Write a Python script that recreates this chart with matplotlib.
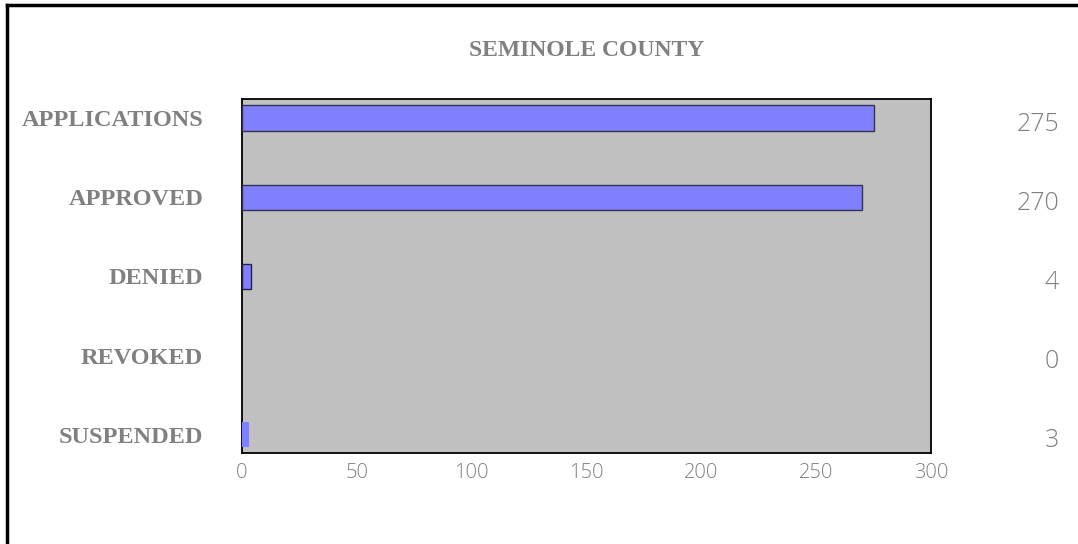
import matplotlib
matplotlib.use("Agg")
import matplotlib.pyplot as plt
from matplotlib.lines import Line2D

title = "SEMINOLE COUNTY"
categories = ["APPLICATIONS", "APPROVED", "DENIED", "REVOKED", "SUSPENDED"]
values = [275, 270, 4, 0, 3]
xticks = [0, 50, 100, 150, 200, 250, 300]

fig = plt.figure(figsize=(10.78, 5.44), dpi=100)
fig.patch.set_facecolor("white")
ax = fig.add_axes([242/1078, 1-453/544, (931-242)/1078, (453-99)/544])
ax.set_facecolor("#C0C0C0")

pos = list(range(len(categories)))
edges = ["#333355", "#333355", "#222244", "none", "none"]
ax.barh(pos, values, height=0.32, color="#8080FF", edgecolor=edges, linewidth=1.0, zorder=3)

ax.set_xlim(0, 300)
ax.set_ylim(4.23, -0.24)
ax.set_xticks(xticks)
ax.set_xticklabels([str(t) for t in xticks], fontsize=14.5, color="#808080",
                   family=["Open Sans", "DejaVu Sans"], fontweight="light")
ax.set_yticks(pos)
ax.set_yticklabels(categories, fontsize=17.5, color="#808080",
                   family=["Liberation Serif", "DejaVu Serif"], fontweight="bold")
ax.tick_params(axis="both", length=0)
ax.tick_params(axis="y", pad=28)
ax.tick_params(axis="x", pad=7)
for s in ax.spines.values():
    s.set_color("black")
    s.set_linewidth(1.3)

for p, v in zip(pos, values):
    ax.annotate(str(v), xy=(1.0, p), xycoords=("axes fraction", "data"),
                xytext=(128, -6), textcoords="offset pixels",
                ha="right", va="center", fontsize=18, color="#808080",
                family=["Open Sans", "DejaVu Sans"], fontweight="light")

fig.text(587/1078, 1-50/544, title, ha="center", va="center", fontsize=17,
         color="#808080", family=["Liberation Serif", "DejaVu Serif"], fontweight="bold")

# partial black border (top and left)
fig.add_artist(Line2D([7/1078, 7/1078], [0, 1-5/544], transform=fig.transFigure, color="black", linewidth=2.5))
fig.add_artist(Line2D([7/1078, 1], [1-5/544, 1-5/544], transform=fig.transFigure, color="black", linewidth=2.5))

fig.savefig("out.png", dpi=100, facecolor="white")
